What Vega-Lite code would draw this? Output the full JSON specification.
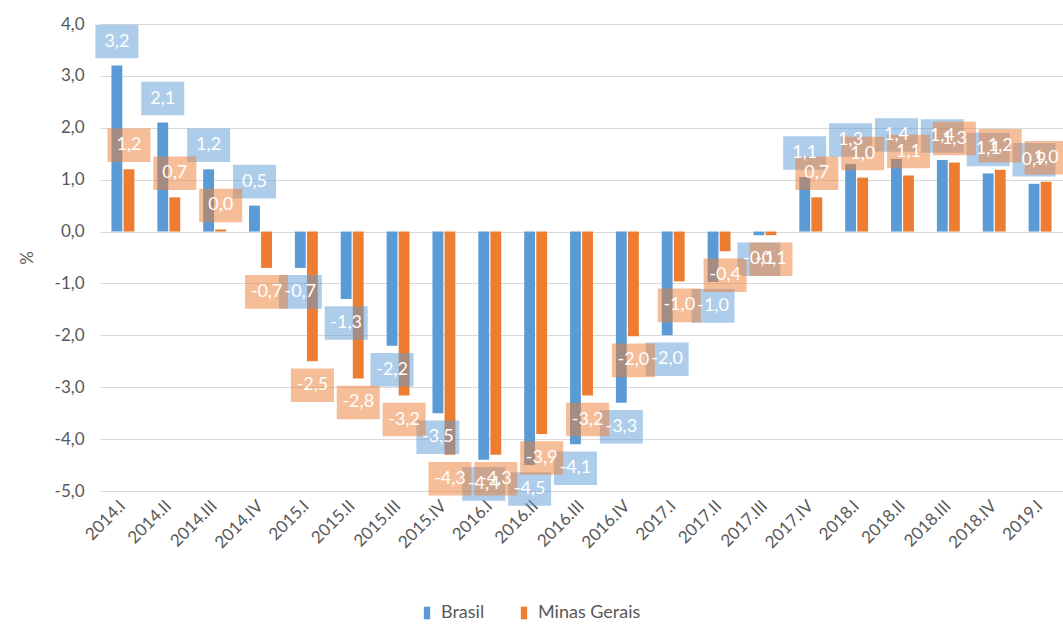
{
  "$schema": "https://vega.github.io/schema/vega-lite/v6.json",
  "width": 963,
  "height": 467,
  "autosize": "none",
  "padding": {"left": 100, "top": 24, "right": 0, "bottom": 137},
  "config": {
    "locale": {"number": {"decimal": ",", "thousands": ".", "grouping": [3], "currency": ["R$", ""], "minus": "-"}},
    "view": {"stroke": null},
    "font": "Lato"
  },
  "data": {
    "values": [
      {"q": "2014.I", "serie": "Brasil", "v": 3.2},
      {"q": "2014.II", "serie": "Brasil", "v": 2.1},
      {"q": "2014.III", "serie": "Brasil", "v": 1.2},
      {"q": "2014.IV", "serie": "Brasil", "v": 0.5},
      {"q": "2015.I", "serie": "Brasil", "v": -0.7},
      {"q": "2015.II", "serie": "Brasil", "v": -1.3},
      {"q": "2015.III", "serie": "Brasil", "v": -2.2},
      {"q": "2015.IV", "serie": "Brasil", "v": -3.5},
      {"q": "2016.I", "serie": "Brasil", "v": -4.4},
      {"q": "2016.II", "serie": "Brasil", "v": -4.5},
      {"q": "2016.III", "serie": "Brasil", "v": -4.1},
      {"q": "2016.IV", "serie": "Brasil", "v": -3.3},
      {"q": "2017.I", "serie": "Brasil", "v": -2.0},
      {"q": "2017.II", "serie": "Brasil", "v": -0.97},
      {"q": "2017.III", "serie": "Brasil", "v": -0.07},
      {"q": "2017.IV", "serie": "Brasil", "v": 1.05},
      {"q": "2018.I", "serie": "Brasil", "v": 1.3},
      {"q": "2018.II", "serie": "Brasil", "v": 1.4},
      {"q": "2018.III", "serie": "Brasil", "v": 1.38},
      {"q": "2018.IV", "serie": "Brasil", "v": 1.12},
      {"q": "2019.I", "serie": "Brasil", "v": 0.92},
      {"q": "2014.I", "serie": "Minas Gerais", "v": 1.2},
      {"q": "2014.II", "serie": "Minas Gerais", "v": 0.66},
      {"q": "2014.III", "serie": "Minas Gerais", "v": 0.04},
      {"q": "2014.IV", "serie": "Minas Gerais", "v": -0.7},
      {"q": "2015.I", "serie": "Minas Gerais", "v": -2.5},
      {"q": "2015.II", "serie": "Minas Gerais", "v": -2.83},
      {"q": "2015.III", "serie": "Minas Gerais", "v": -3.16},
      {"q": "2015.IV", "serie": "Minas Gerais", "v": -4.3},
      {"q": "2016.I", "serie": "Minas Gerais", "v": -4.3},
      {"q": "2016.II", "serie": "Minas Gerais", "v": -3.9},
      {"q": "2016.III", "serie": "Minas Gerais", "v": -3.16},
      {"q": "2016.IV", "serie": "Minas Gerais", "v": -2.02},
      {"q": "2017.I", "serie": "Minas Gerais", "v": -0.96},
      {"q": "2017.II", "serie": "Minas Gerais", "v": -0.38},
      {"q": "2017.III", "serie": "Minas Gerais", "v": -0.07},
      {"q": "2017.IV", "serie": "Minas Gerais", "v": 0.66},
      {"q": "2018.I", "serie": "Minas Gerais", "v": 1.04},
      {"q": "2018.II", "serie": "Minas Gerais", "v": 1.08},
      {"q": "2018.III", "serie": "Minas Gerais", "v": 1.33},
      {"q": "2018.IV", "serie": "Minas Gerais", "v": 1.19},
      {"q": "2019.I", "serie": "Minas Gerais", "v": 0.96}
    ]
  },
  "encoding": {
    "x": {
      "field": "q", "type": "ordinal", "sort": null,
      "scale": {"paddingInner": 0.5, "paddingOuter": 0.25},
      "axis": {"title": null, "labelAngle": -45, "labelAlign": "right", "labelBaseline": "middle", "labelFontSize": 17, "labelColor": "#595959", "ticks": false, "domain": false, "labelPadding": 12}
    },
    "xOffset": {"field": "serie", "sort": ["Brasil", "Minas Gerais"], "scale": {"paddingInner": 0.1}},
    "y": {
      "field": "v", "type": "quantitative",
      "scale": {"domain": [-5, 4], "nice": false},
      "axis": {"values": [-5, -4, -3, -2, -1, 0, 1, 2, 3, 4], "format": ".1f", "title": "%", "titleFontWeight": "normal", "titleFontSize": 17, "titleColor": "#595959", "titlePadding": 18, "labelFontSize": 17, "labelColor": "#595959", "labelPadding": 16, "ticks": false, "domain": false, "gridColor": "#D9D9D9", "gridWidth": 1}
    },
    "color": {
      "field": "serie", "type": "nominal", "sort": ["Brasil", "Minas Gerais"],
      "scale": {"range": ["#5B9BD5", "#ED7D31"]},
      "legend": {"title": null, "orient": "none", "legendX": 318, "legendY": 580, "direction": "horizontal", "symbolType": "M-0.5,-1L0.5,-1L0.5,1L-0.5,1Z", "symbolSize": 160, "symbolOpacity": 1, "symbolStrokeWidth": 0, "labelFontSize": 18, "labelColor": "#595959", "columnPadding": 30, "labelOffset": 5}
    }
  },
  "layer": [
    {"mark": {"type": "bar"}},
    {
      "transform": [{"filter": "datum.v >= 0"}],
      "mark": {"type": "point", "shape": "M-1,-0.78L1,-0.78L1,0.78L-1,0.78Z", "size": 1849, "filled": true, "opacity": 0.5, "strokeWidth": 0, "yOffset": -24}
    },
    {
      "transform": [{"filter": "datum.v < 0"}],
      "mark": {"type": "point", "shape": "M-1,-0.78L1,-0.78L1,0.78L-1,0.78Z", "size": 1849, "filled": true, "opacity": 0.5, "strokeWidth": 0, "yOffset": 24}
    },
    {
      "transform": [{"filter": "datum.v >= 0"}],
      "mark": {"type": "text", "fontSize": 18, "baseline": "middle", "align": "center", "yOffset": -24},
      "encoding": {"text": {"field": "v", "type": "quantitative", "format": ".1f"}, "color": {"value": "white"}}
    },
    {
      "transform": [{"filter": "datum.v < 0"}],
      "mark": {"type": "text", "fontSize": 18, "baseline": "middle", "align": "center", "yOffset": 24},
      "encoding": {"text": {"field": "v", "type": "quantitative", "format": ".1f"}, "color": {"value": "white"}}
    }
  ]
}
